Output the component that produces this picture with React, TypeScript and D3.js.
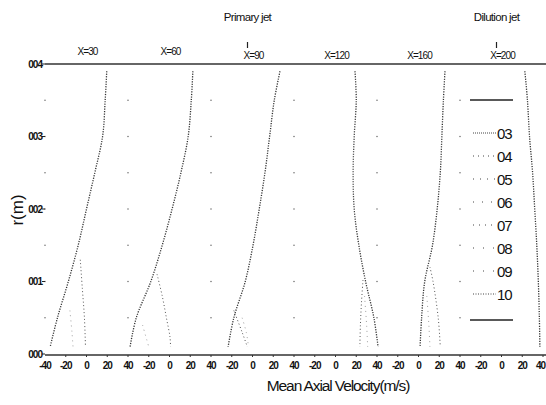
import React from "react";
import * as d3 from "d3";

// ---- data ----
const yTicks = [0, 0.01, 0.02, 0.03, 0.04];
const yTickLabels = ["000", "001", "002", "003", "004"];
const xTicks = [-20, 0, 20, 40];
const panelLabels = ["X=30", "X=60", "X=90", "X=120", "X=160", "X=200"];
const jetTitles = ["Primary jet", "Dilution jet"];
const jetPanels = [2, 5];
const radii = [0.039, 0.035, 0.03, 0.025, 0.02, 0.015, 0.01, 0.005, 0.001];
const mainVelocity = [
  [19.5, 18, 15.5, 8, 0, -8, -17.5, -28, -35],
  [22.5, 21, 18, 11, 2.5, -7, -18, -32, -38],
  [26.5, 21, 16.5, 12, 6.5, 0.5, -7, -18, -23.5],
  [18.8, 20, 18, 17, 18, 22.5, 29, 37, 41],
  [25.5, 24, 22.5, 21, 18, 13.5, 6, 3, 1.5],
  [22.5, 25, 27, 30, 32, 34, 35.5, 36.5, 37],
];
// inner branches near the axis: [velocity, r]
const branchVelocity: [number, number][][] = [
  [[-6, 0.013], [-4, 0.009], [-2, 0.005], [-1, 0.001]],
  [[-12, 0.011], [-7, 0.008], [-3, 0.005], [0.5, 0.0023], [1, 0.001]],
  [[-18, 0.006], [-10, 0.003], [-5, 0.001]],
  [[26.5, 0.0102], [25, 0.007], [24, 0.004], [23.5, 0.001]],
  [[11, 0.012], [14, 0.01], [19, 0.005], [21, 0.001]],
  [],
];
const faintVelocity: [number, number][][] = [
  [[-16, 0.006], [-14, 0.003], [-13, 0.001]],
  [[-26, 0.004], [-22, 0.002], [-20, 0.001]],
  [[-10, 0.005], [-6, 0.003], [-4, 0.0012]],
  [[28, 0.008], [30, 0.004], [31, 0.001]],
  [[8, 0.008], [10, 0.004], [11, 0.001]],
  [],
];
const legendLabels = ["03", "04", "05", "06", "07", "08", "09", "10"];
const legendDash = ["1 1", "1 4", "1 6", "1 8", "1 5", "1 9", "1 9", "1 1.5"];

// ---- layout ----
const W = 546;
const H = 405;
const plotLeft = 45;
const panelW = 83;
const yTop = 64;
const yBottom = 354;
const font = "'Liberation Sans', Arial, sans-serif";

export default function App() {
  const y = d3.scaleLinear().domain([0, 0.04]).range([yBottom, yTop]);
  const panels = panelLabels.map((_, i) =>
    d3.scaleLinear().domain([-40, 40]).range([plotLeft + i * panelW, plotLeft + (i + 1) * panelW])
  );
  const gridR = d3.range(1, 8).map((k) => k * 0.005);
  const legY = d3.scalePoint<string>().domain(legendLabels).range([133, 294]);

  const lineFor = (xs: d3.ScaleLinear<number, number>) =>
    d3
      .line<[number, number]>()
      .x((d) => xs(d[0]))
      .y((d) => y(d[1]))
      .curve(d3.curveCatmullRom);

  return (
    <svg
      width={W}
      height={H}
      style={{ position: "absolute", left: 0, top: 0, background: "#fff" }}
      fontFamily={font}
    >
      <rect width={W} height={H} fill="#fff" />
      {/* jet titles */}
      {jetPanels.map((p, i) => {
        const cx = panels[p](0) - 5;
        return (
          <g key={"jt" + i}>
            <text x={cx} y={21} fontSize={11.5} textAnchor="middle" letterSpacing={-0.7} fill="#111">
              {jetTitles[i]}
            </text>
            <line x1={cx} x2={cx} y1={42} y2={48} stroke="#222" strokeWidth={1.2} />
          </g>
        );
      })}
      {/* panel labels */}
      {panels.map((xs, i) => (
        <text
          key={"pl" + i}
          x={xs(0) + 1}
          y={i < 2 ? 55 : 59}
          fontSize={10}
          textAnchor="middle"
          letterSpacing={-0.9}
          fill="#111"
        >
          {panelLabels[i]}
        </text>
      ))}
      {/* frame lines */}
      <line x1={plotLeft} x2={W} y1={yTop} y2={yTop} stroke="#333" strokeWidth={1.4} />
      <line x1={plotLeft} x2={W} y1={yBottom + 1} y2={yBottom + 1} stroke="#333" strokeWidth={1.4} />
      {/* grid dots at panel boundaries */}
      {d3.range(0, panels.length).map((i) =>
        gridR.map((r) => (
          <circle key={`gd${i}-${r}`} cx={panels[i](-40)} cy={y(r)} r={0.8} fill="#777" />
        ))
      )}
      {/* y axis */}
      {yTicks.map((t, i) => (
        <g key={"yt" + i}>
          <line x1={plotLeft - 3} x2={plotLeft} y1={y(t)} y2={y(t)} stroke="#222" />
          <text
            x={plotLeft - 3}
            y={y(t) + 3.5}
            fontSize={10}
            fontWeight="bold"
            textAnchor="end"
            letterSpacing={-1}
            fill="#111"
          >
            {yTickLabels[i]}
          </text>
        </g>
      ))}
      <text
        transform={`translate(23, 210) rotate(-90)`}
        fontSize={17}
        textAnchor="middle"
        fill="#111"
      >
        r(m)
      </text>
      {/* x ticks */}
      <text x={panels[0](-40)} y={369} fontSize={10} fontWeight="bold" textAnchor="middle" letterSpacing={-1} fill="#111">
        -40
      </text>
      {panels.map((xs, i) =>
        xTicks.map((t) => {
          const isLast = i === panels.length - 1 && t === 40;
          return (
            <g key={`xt${i}-${t}`}>
              <line x1={xs(t)} x2={xs(t)} y1={yBottom + 1} y2={yBottom + 3} stroke="#333" />
              <text
                x={isLast ? W - 1 : xs(t)}
                y={369}
                fontSize={10}
                fontWeight="bold"
                textAnchor={isLast ? "end" : "middle"}
                letterSpacing={-1}
                fill="#111"
              >
                {t}
              </text>
            </g>
          );
        })
      )}
      <text x={338} y={391} fontSize={15.5} textAnchor="middle" letterSpacing={-1.1} fill="#111">
        Mean Axial Velocity(m/s)
      </text>
      {/* curves */}
      {panels.map((xs, i) => {
        const ln = lineFor(xs);
        const main = radii.map((r, k) => [mainVelocity[i][k], r] as [number, number]);
        return (
          <g key={"cv" + i} fill="none">
            <path d={ln(main) || ""} stroke="#333" strokeWidth={1.3} strokeDasharray="1.2 1.3" />
            {branchVelocity[i].length > 0 && (
              <path d={ln(branchVelocity[i]) || ""} stroke="#555" strokeWidth={1} strokeDasharray="1 2.5" />
            )}
            {faintVelocity[i].length > 0 && (
              <path d={ln(faintVelocity[i]) || ""} stroke="#999" strokeWidth={0.9} strokeDasharray="1 4" />
            )}
          </g>
        );
      })}
      {/* legend */}
      <g>
        <line x1={470} x2={513} y1={100} y2={100} stroke="#222" strokeWidth={1.3} />
        {legendLabels.map((l, i) => (
          <g key={"lg" + l}>
            <line
              x1={473}
              x2={496}
              y1={legY(l)!}
              y2={legY(l)!}
              stroke="#444"
              strokeWidth={1}
              strokeDasharray={legendDash[i]}
            />
            <text x={497} y={legY(l)! + 5.5} fontSize={15} letterSpacing={-1.2} fill="#111">
              {l}
            </text>
          </g>
        ))}
        <line x1={470} x2={513} y1={320} y2={320} stroke="#222" strokeWidth={1.3} />
      </g>
    </svg>
  );
}
